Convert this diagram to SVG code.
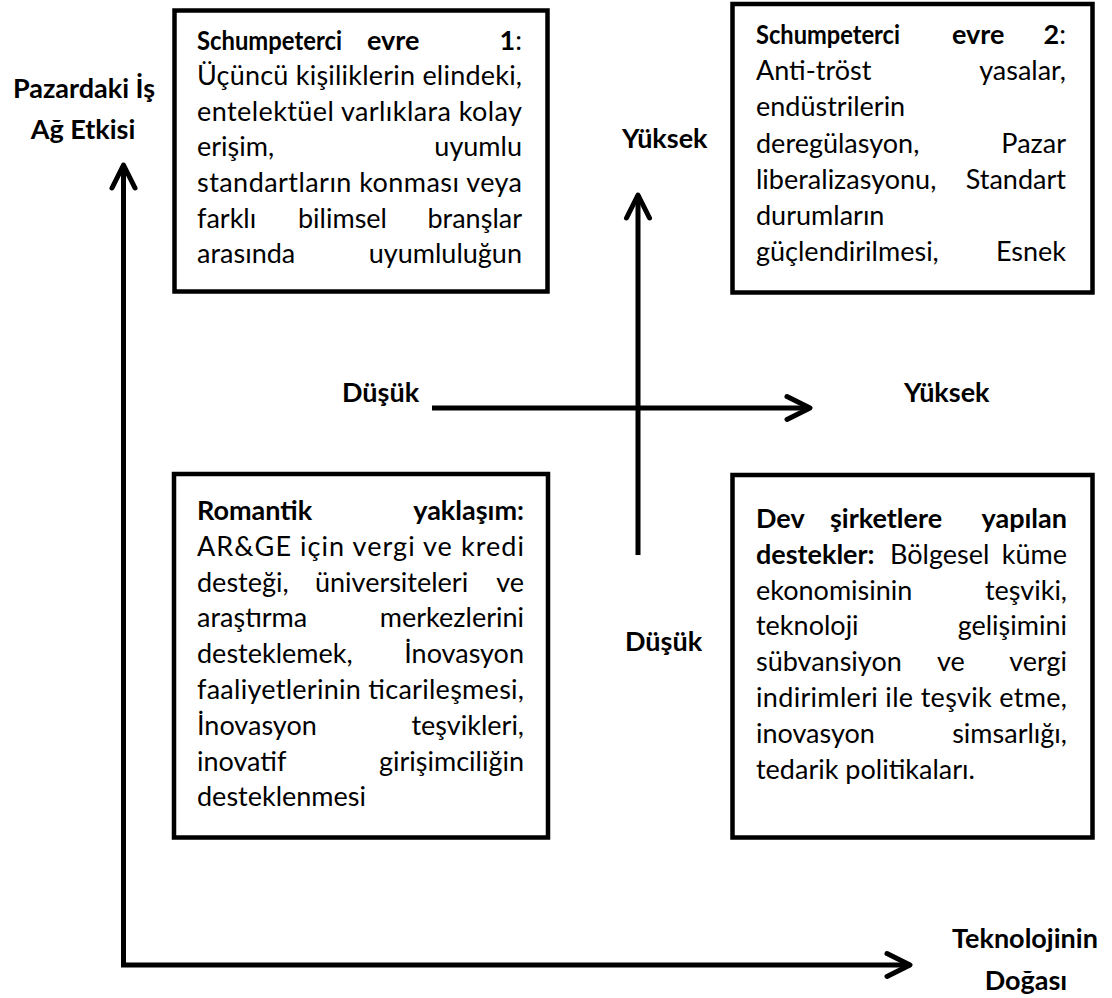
<svg xmlns="http://www.w3.org/2000/svg" width="1112" height="998" viewBox="0 0 1112 998">
<style>
text{font-family:Lato,"Liberation Sans",sans-serif;font-size:27px;fill:#000}
.b{font-weight:bold}
.r{font-weight:normal}
.e{text-anchor:end}
.m{text-anchor:middle}
.box{fill:#fff;stroke:#000;stroke-width:4.5}
.ax{fill:none;stroke:#000;stroke-width:5;marker-end:url(#arr)}
</style>
<defs>
<marker id="arr" markerUnits="userSpaceOnUse" markerWidth="40" markerHeight="40" viewBox="-5 -5 40 40" refX="26" refY="12" orient="auto" overflow="visible">
<path d="M3,0.5 L26,12 L3,23.5" fill="none" stroke="#000" stroke-width="5" stroke-linecap="round" stroke-linejoin="round"/>
</marker>
</defs>
<rect width="1112" height="998" fill="#fff"/>

<g id="connectors">
<path class="ax" d="M123.5,965 V165"/>
<path class="ax" d="M121,965 H910"/>
<path class="ax" d="M432,408 H810"/>
<path class="ax" d="M638,555 V195"/>
</g>

<g id="label-y">
<text class="b m" x="84" y="98">Pazardaki İş</text>
<text class="b m" x="83" y="139">Ağ Etkisi</text>
</g>
<g id="label-x">
<text class="b m" x="1025" y="948">Teknolojinin</text>
<text class="b m" x="1026" y="990">Doğası</text>
</g>
<g id="label-low-h"><text class="b" x="342" y="402">Düşük</text></g>
<g id="label-high-h"><text class="b" x="904" y="402">Yüksek</text></g>
<g id="label-high-v"><text class="b" x="622" y="148">Yüksek</text></g>
<g id="label-low-v"><text class="b" x="625" y="651">Düşük</text></g>

<g id="box-tl">
<rect class="box" x="174.5" y="10.5" width="373" height="281"/>
<text class="b" x="197" y="49.5" textLength="145" lengthAdjust="spacingAndGlyphs">Schumpeterci</text>
<text class="b" x="367" y="49.5">evre</text>
<text class="e" x="522" y="49.5"><tspan class="b">1</tspan>:</text>
<text x="197" y="85.1" textLength="325" lengthAdjust="spacing">Üçüncü kişiliklerin elindeki,</text>
<text x="197" y="120.7" textLength="325" lengthAdjust="spacing">entelektüel varlıklara kolay</text>
<text x="197" y="156.3">erişim,</text>
<text class="e" x="522" y="156.3">uyumlu</text>
<text x="197" y="191.9" textLength="325" lengthAdjust="spacing">standartların konması veya</text>
<text x="197" y="227.5">farklı</text>
<text x="298" y="227.5">bilimsel</text>
<text class="e" x="522" y="227.5">branşlar</text>
<text x="197" y="263.1">arasında</text>
<text class="e" x="522" y="263.1">uyumluluğun</text>
</g>

<g id="box-tr">
<rect class="box" x="732.5" y="4" width="360" height="288.5"/>
<text class="b" x="756" y="44" textLength="144" lengthAdjust="spacingAndGlyphs">Schumpeterci</text>
<text class="b" x="952" y="44">evre</text>
<text class="e" x="1066" y="44"><tspan class="b">2</tspan>:</text>
<text x="756" y="80.2">Anti-tröst</text>
<text class="e" x="1066" y="80.2">yasalar,</text>
<text x="756" y="116.4">endüstrilerin</text>
<text x="756" y="152.6">deregülasyon,</text>
<text class="e" x="1066" y="152.6">Pazar</text>
<text x="756" y="188.8">liberalizasyonu,</text>
<text class="e" x="1066" y="188.8">Standart</text>
<text x="756" y="225">durumların</text>
<text x="756" y="261.2">güçlendirilmesi,</text>
<text class="e" x="1066" y="261.2">Esnek</text>
</g>

<g id="box-bl">
<rect class="box" x="174" y="474" width="374" height="363.5"/>
<text class="b" x="197" y="520">Romantik</text>
<text class="b e" x="524" y="520">yaklaşım:</text>
<text x="197" y="555.8" textLength="327" lengthAdjust="spacing">AR&amp;GE için vergi ve kredi</text>
<text x="197" y="591.6">desteği,</text>
<text x="315" y="591.6">üniversiteleri</text>
<text class="e" x="524" y="591.6">ve</text>
<text x="197" y="627.4">araştırma</text>
<text class="e" x="524" y="627.4">merkezlerini</text>
<text x="197" y="663.2">desteklemek,</text>
<text class="e" x="524" y="663.2">İnovasyon</text>
<text x="197" y="699" textLength="327" lengthAdjust="spacing">faaliyetlerinin ticarileşmesi,</text>
<text x="197" y="734.8">İnovasyon</text>
<text class="e" x="524" y="734.8">teşvikleri,</text>
<text x="197" y="770.6">inovatif</text>
<text class="e" x="524" y="770.6">girişimciliğin</text>
<text x="197" y="806.4">desteklenmesi</text>
</g>

<g id="box-br">
<rect class="box" x="732.5" y="475" width="360" height="362.5"/>
<text class="b" x="756" y="528">Dev</text>
<text class="b" x="830" y="528">şirketlere</text>
<text class="b e" x="1067" y="528">yapılan</text>
<text class="b" x="756" y="563.8">destekler:</text>
<text x="890" y="563.8">Bölgesel</text>
<text class="e" x="1067" y="563.8">küme</text>
<text x="756" y="599.6">ekonomisinin</text>
<text class="e" x="1067" y="599.6">teşviki,</text>
<text x="756" y="635.4">teknoloji</text>
<text class="e" x="1067" y="635.4">gelişimini</text>
<text x="756" y="671.2">sübvansiyon</text>
<text x="937" y="671.2">ve</text>
<text class="e" x="1067" y="671.2">vergi</text>
<text x="756" y="707" textLength="311" lengthAdjust="spacing">indirimleri ile teşvik etme,</text>
<text x="756" y="742.8">inovasyon</text>
<text class="e" x="1067" y="742.8">simsarlığı,</text>
<text x="756" y="778.6">tedarik politikaları.</text>
</g>
</svg>
